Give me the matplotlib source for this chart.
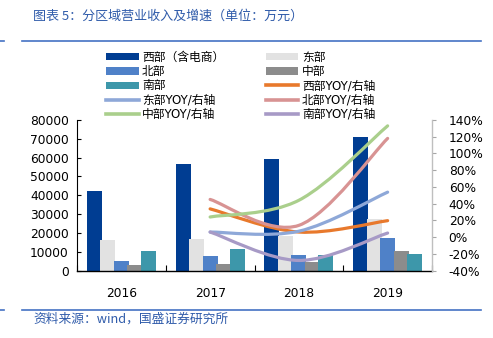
import matplotlib
matplotlib.use("Agg")
import matplotlib.pyplot as plt
import numpy as np
from matplotlib.lines import Line2D
from matplotlib.patches import Patch, PathPatch
from matplotlib.path import Path

plt.rcParams["font.family"] = ["DejaVu Sans", "Noto Sans CJK SC"]
plt.rcParams["axes.unicode_minus"] = False

# ---- 数据 (万元 / %) ----
YEARS = ["2016", "2017", "2018", "2019"]
BAR_NAMES = ["西部（含电商）", "东部", "北部", "中部", "南部"]
west = [42400, 56400, 59400, 70900]
east = [16400, 16900, 18200, 27500]
north = [5000, 7600, 8000, 17500]
central = [2900, 3400, 4600, 10600]
south = [10600, 11200, 8200, 8700]

YOY_YEARS = ["2017", "2018", "2019"]
west_yoy = [33.7, 6.0, 19.6]
east_yoy = [6.0, 7.0, 53.7]
north_yoy = [45.0, 14.0, 118.0]
central_yoy = [24.0, 44.0, 133.0]
south_yoy = [6.0, -28.0, 4.8]

BAR_COLORS = ["#003D92", "#E2E2E2", "#4F81C8", "#8C8C8C", "#3D97AA"]
LINE_COLORS = {"西部": "#E8792C", "东部": "#8EA8D8", "北部": "#D89393",
               "中部": "#AACF8C", "南部": "#A79AC6"}
BLUE = "#2F5BAA"


def smooth_path(xs, ys):
    """Excel 风格平滑线: Catmull-Rom -> 三次 Bezier"""
    pts = np.column_stack([xs, ys]).astype(float)
    ext = np.vstack([pts[0], pts, pts[-1]])
    verts = [pts[0]]
    codes = [Path.MOVETO]
    for i in range(len(pts) - 1):
        p0, p1, p2, p3 = ext[i], ext[i + 1], ext[i + 2], ext[i + 3]
        verts += [p1 + (p2 - p0) / 6, p2 - (p3 - p1) / 6, p2]
        codes += [Path.CURVE4] * 3
    return Path(verts, codes)


fig = plt.figure(figsize=(4.93, 3.38), dpi=100)
ax = fig.add_axes([77 / 493, 1 - 270.5 / 338, 355 / 493, 150.5 / 338])
ax2 = ax.twinx()

x = np.arange(len(YEARS))
pitch, bw = 0.152, 0.17
for k, (vals, c) in enumerate(zip([west, east, north, central, south], BAR_COLORS)):
    ax.bar(x + (k - 2) * pitch, vals, width=bw, color=c, zorder=2)

ax.set_xlim(-0.5, len(YEARS) - 0.5)
ax.set_ylim(0, 80000)
ax.set_yticks(np.arange(0, 80001, 10000))
ax.set_xticks(x)
ax.set_xticklabels(YEARS)
ax.set_xticks(np.arange(-0.5, len(YEARS)), minor=True)
ax.tick_params(axis="x", which="major", length=0, labelsize=8.8, pad=12)
ax.tick_params(axis="x", which="minor", direction="in", length=4, width=0.8)
ax.tick_params(axis="y", direction="in", length=3, width=0.8, labelsize=8.8, pad=6)
for s in ["top", "right"]:
    ax.spines[s].set_visible(False)
ax.spines["left"].set_linewidth(0.8)
ax.spines["bottom"].set_linewidth(1.0)

yx = np.array([YEARS.index(y) for y in YOY_YEARS])
yoys = [("西部", west_yoy), ("东部", east_yoy), ("北部", north_yoy),
        ("中部", central_yoy), ("南部", south_yoy)]
for name, vals in yoys:
    ax2.add_patch(PathPatch(smooth_path(yx, vals), fill=False,
                            edgecolor=LINE_COLORS[name], lw=2.3,
                            capstyle="round", zorder=3))
ax2.set_ylim(-40, 140)
ax2.set_yticks(np.arange(-40, 141, 20))
ax2.set_yticklabels([f"{v}%" for v in range(-40, 141, 20)])
ax2.tick_params(axis="y", direction="out", length=3, width=0.8, color="#A6A6A6",
                labelsize=8.8, pad=9)
for s in ["top", "left", "bottom"]:
    ax2.spines[s].set_visible(False)
ax2.spines["right"].set_color("#BFBFBF")
ax2.spines["right"].set_linewidth(1.0)

# 图例 (两列)
bar_h = [Patch(facecolor=c, edgecolor="none") for c in BAR_COLORS]
line_h = {n: Line2D([], [], color=LINE_COLORS[n], lw=2.6) for n in LINE_COLORS}
handles = [bar_h[0], bar_h[2], bar_h[4], line_h["东部"], line_h["中部"],
           bar_h[1], bar_h[3], line_h["西部"], line_h["北部"], line_h["南部"]]
labels = ["西部（含电商）", "北部", "南部", "东部YOY/右轴", "中部YOY/右轴",
          "东部", "中部", "西部YOY/右轴", "北部YOY/右轴", "南部YOY/右轴"]
fig.legend(handles, labels, ncol=2, frameon=False, fontsize=8.5,
           loc="upper left", bbox_to_anchor=(106 / 493, 1 - 51 / 338),
           borderpad=0, borderaxespad=0, handlelength=2.76, handleheight=0.55,
           handletextpad=0.3, labelspacing=0.1, columnspacing=3.5)

# 标题与来源
fig.text(33 / 493, 1 - 16 / 338, "图表 5：分区域营业收入及增速（单位：万元）",
         color=BLUE, fontsize=9.4, style="italic", va="center",
         family=["Noto Sans CJK SC", "DejaVu Sans"])
fig.text(33 / 493, 1 - 319 / 338, "资料来源：wind，国盛证券研究所",
         color=BLUE, fontsize=9.2, style="italic", va="center",
         family=["Noto Sans CJK SC", "DejaVu Sans"])
for yy in [41, 310]:
    fig.add_artist(Line2D([22 / 493, 481 / 493], [1 - yy / 338] * 2,
                          color="#4472C4", lw=1.2))
    fig.add_artist(Line2D([0, 4 / 493], [1 - yy / 338] * 2,
                          color="#4472C4", lw=1.2))

fig.savefig("out.png", dpi=100)
